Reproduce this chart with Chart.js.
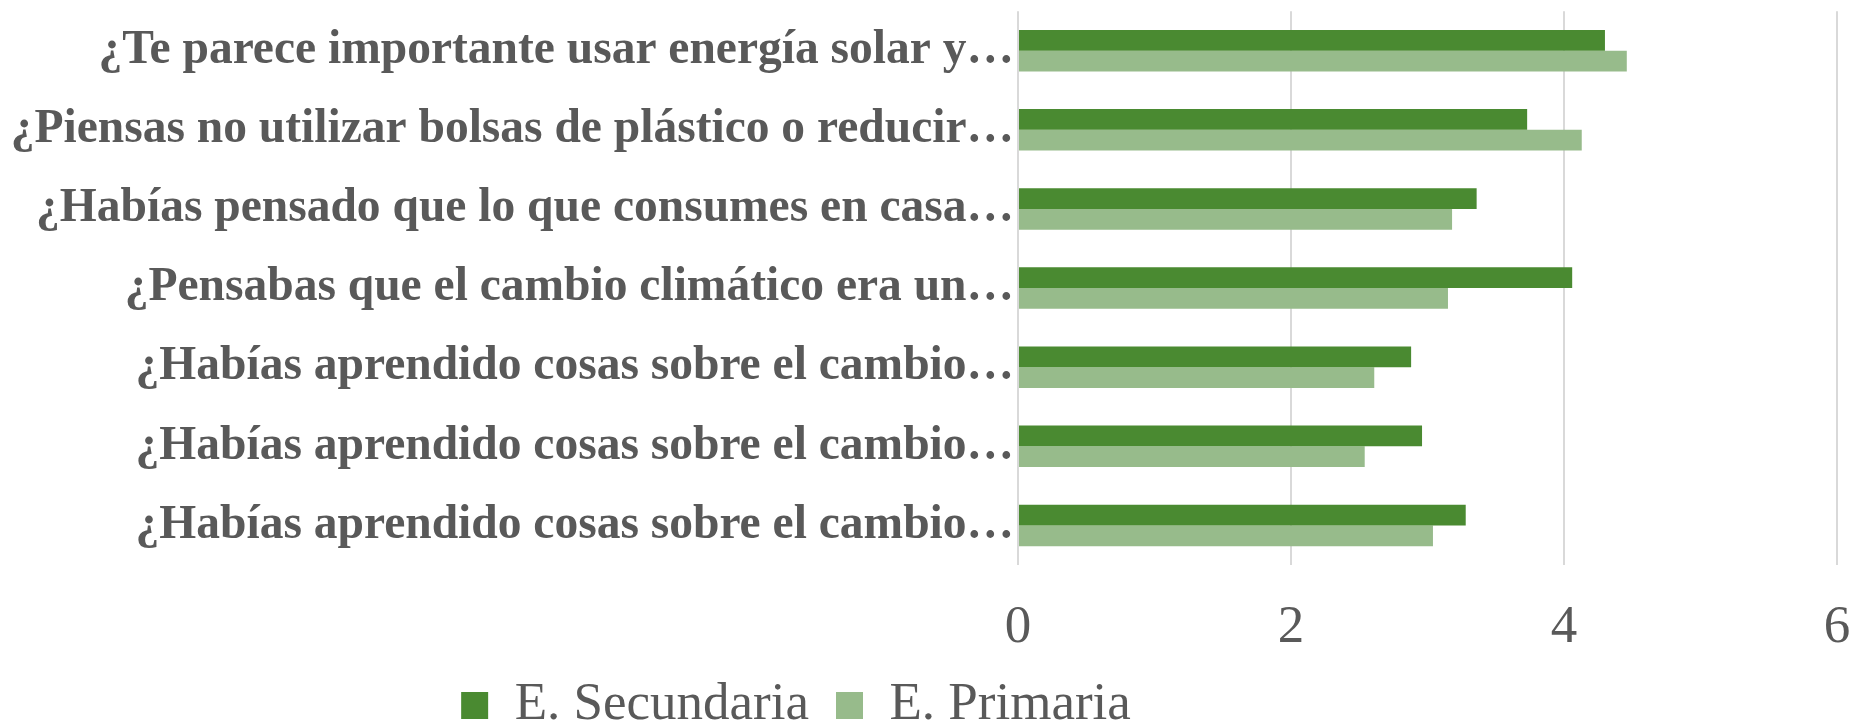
<!DOCTYPE html>
<html lang="es">
<head>
<meta charset="utf-8">
<script src="https://cdn.jsdelivr.net/npm/chart.js@4.4.1/dist/chart.umd.min.js"></script>
<style>
  html, body { margin: 0; padding: 0; background: #fff; overflow: hidden; }
  #wrap { position: relative; width: 1866px; height: 727px; }
</style>
</head>
<body>
<div id="wrap"><canvas id="encuesta-chart"></canvas></div>
<script>
// Preguntas de la encuesta (respuesta media, escala 0-6)
const preguntas = [
  '¿Te parece importante usar energía solar y…',
  '¿Piensas no utilizar bolsas de plástico o reducir…',
  '¿Habías pensado que lo que consumes en casa…',
  '¿Pensabas que el cambio climático era un…',
  '¿Habías aprendido cosas sobre el cambio…',
  '¿Habías aprendido cosas sobre el cambio…',
  '¿Habías aprendido cosas sobre el cambio…',
];
const secundaria = [4.3, 3.73, 3.36, 4.06, 2.88, 2.96, 3.28];
const primaria = [4.46, 4.13, 3.18, 3.15, 2.61, 2.54, 3.04];
const ejeTicks = [0, 2, 4, 6];

const grey = '#595959';
const serif = "'Liberation Serif', 'Times New Roman', serif";

// keep the legend row centred under the label column, like the original sheet
const legendCenter = {
  id: 'legendCenter',
  beforeDraw(chart) {
    if (!chart.legend) return;
    chart.legend.left = 0;
    chart.legend.right = 1592;
  },
};

new Chart(document.getElementById('encuesta-chart'), {
  type: 'bar',
  data: {
    labels: preguntas,
    datasets: [
      { label: 'E. Secundaria', data: secundaria, backgroundColor: '#4a8a31', borderWidth: 0 },
      { label: 'E. Primaria', data: primaria, backgroundColor: '#97bb8b', borderWidth: 0 },
    ],
  },
  options: {
    indexAxis: 'y',
    responsive: true,
    maintainAspectRatio: false,
    animation: false,
    categoryPercentage: 0.524,
    barPercentage: 1,
    layout: { padding: { top: 7, right: 0, bottom: 0, left: 0 } },
    scales: {
      x: {
        min: ejeTicks[0],
        max: ejeTicks[ejeTicks.length - 1],
        afterBuildTicks: (scale) => { scale.ticks = ejeTicks.map(v => ({ value: v })); },
        // fixed axis band; right margin independent of the tick padding
        afterFit: (scale) => { scale.height = 87; scale.paddingRight = 29; },
        grid: { color: '#d9d9d9', lineWidth: 2, drawTicks: false },
        border: { display: false },
        ticks: { color: grey, padding: 37, font: { family: serif, size: 53, lineHeight: 1 } },
      },
      y: {
        afterFit: (scale) => { scale.width = 1018; },
        grid: { display: false, drawTicks: false },
        border: { display: false },
        // small line height so the first/last labels don't pad the plot
        ticks: { color: grey, padding: 4, autoSkip: false, font: { family: serif, size: 47.5, weight: 'bold', lineHeight: 0.3 } },
      },
    },
    plugins: {
      legend: {
        position: 'bottom',
        maxHeight: 75,
        labels: { color: grey, boxWidth: 27, boxHeight: 27, padding: 27, font: { family: serif, size: 53 } },
      },
      tooltip: { enabled: false },
    },
  },
  plugins: [legendCenter],
});
</script>
</body>
</html>
